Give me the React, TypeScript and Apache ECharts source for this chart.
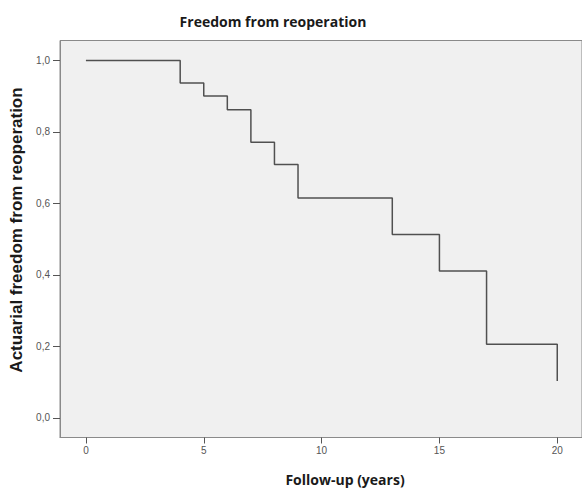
import React, { useEffect, useRef } from "react";
import * as echarts from "echarts";

const times = [0, 4, 5, 6, 7, 8, 9, 13, 15, 17, 20];
const survival = [1.0, 0.937, 0.901, 0.862, 0.771, 0.709, 0.615, 0.513, 0.411, 0.206, 0.103];
const xTicks = [0, 5, 10, 15, 20];
const yTicks = [0, 0.2, 0.4, 0.6, 0.8, 1.0];

const titleText = "Freedom from reoperation";
const xTitle = "Follow-up (years)";
const yTitle = "Actuarial freedom from reoperation";

export default function App() {
  const ref = useRef<HTMLDivElement>(null);
  useEffect(() => {
    if (!ref.current) return;
    const chart = echarts.init(ref.current, null, { renderer: "svg" });
    const fmt = (v: number) => v.toFixed(1).replace(".", ",");
    chart.setOption({
      animation: false,
      backgroundColor: "#ffffff",
      grid: {
        left: 60,
        top: 40.5,
        right: 0,
        bottom: 52.5,
        show: true,
        backgroundColor: "#f0f0f0",
        borderColor: "#8a8a8a",
        borderWidth: 1,
      },
      graphic: [
        {
          type: "text",
          x: 273,
          y: 21,
          style: {
            text: titleText,
            font: "bold 14px 'Open Sans'",
            fill: "#1a1a1a",
            textAlign: "center",
            textVerticalAlign: "middle",
          },
        },
        {
          type: "text",
          x: 345,
          y: 479,
          style: {
            text: xTitle,
            font: "bold 14px 'Open Sans'",
            fill: "#1a1a1a",
            textAlign: "center",
            textVerticalAlign: "middle",
          },
        },
        {
          type: "text",
          x: 16,
          y: 230,
          rotation: Math.PI / 2,
          style: {
            text: yTitle,
            font: "bold 17px 'Liberation Sans', Arial",
            fill: "#1a1a1a",
            textAlign: "center",
            textVerticalAlign: "middle",
          },
        },
      ],
      xAxis: {
        type: "value",
        min: -1.1,
        max: 21.05,
        splitLine: { show: false },
        axisLine: { show: true, onZero: false, lineStyle: { color: "#8a8a8a", width: 1 } },
        axisTick: {
          show: true,
          length: 6,
          customValues: xTicks,
          lineStyle: { color: "#555", width: 1 },
        },
        axisLabel: {
          customValues: xTicks,
          color: "#555",
          fontFamily: "'Liberation Sans', Arial",
          fontSize: 10,
          margin: 8,
          formatter: (v: number) => String(v),
        },
      },
      yAxis: {
        type: "value",
        min: -0.055,
        max: 1.056,
        splitLine: { show: false },
        axisLine: { show: true, onZero: false, lineStyle: { color: "#8a8a8a", width: 1 } },
        axisTick: {
          show: true,
          length: 7,
          customValues: yTicks,
          lineStyle: { color: "#555", width: 1 },
        },
        axisLabel: {
          customValues: yTicks,
          color: "#555",
          fontFamily: "'Liberation Sans', Arial",
          fontSize: 10,
          margin: 10,
          formatter: (v: number) => fmt(v),
        },
      },
      series: [
        {
          type: "line",
          step: "end",
          data: times.map((t, i) => [t, survival[i]]),
          symbol: "none",
          lineStyle: { color: "#505050", width: 1.5 },
        },
      ],
    });
    return () => chart.dispose();
  }, []);
  return (
    <div
      ref={ref}
      style={{ position: "fixed", left: 0, top: 0, width: 582, height: 490 }}
    />
  );
}
